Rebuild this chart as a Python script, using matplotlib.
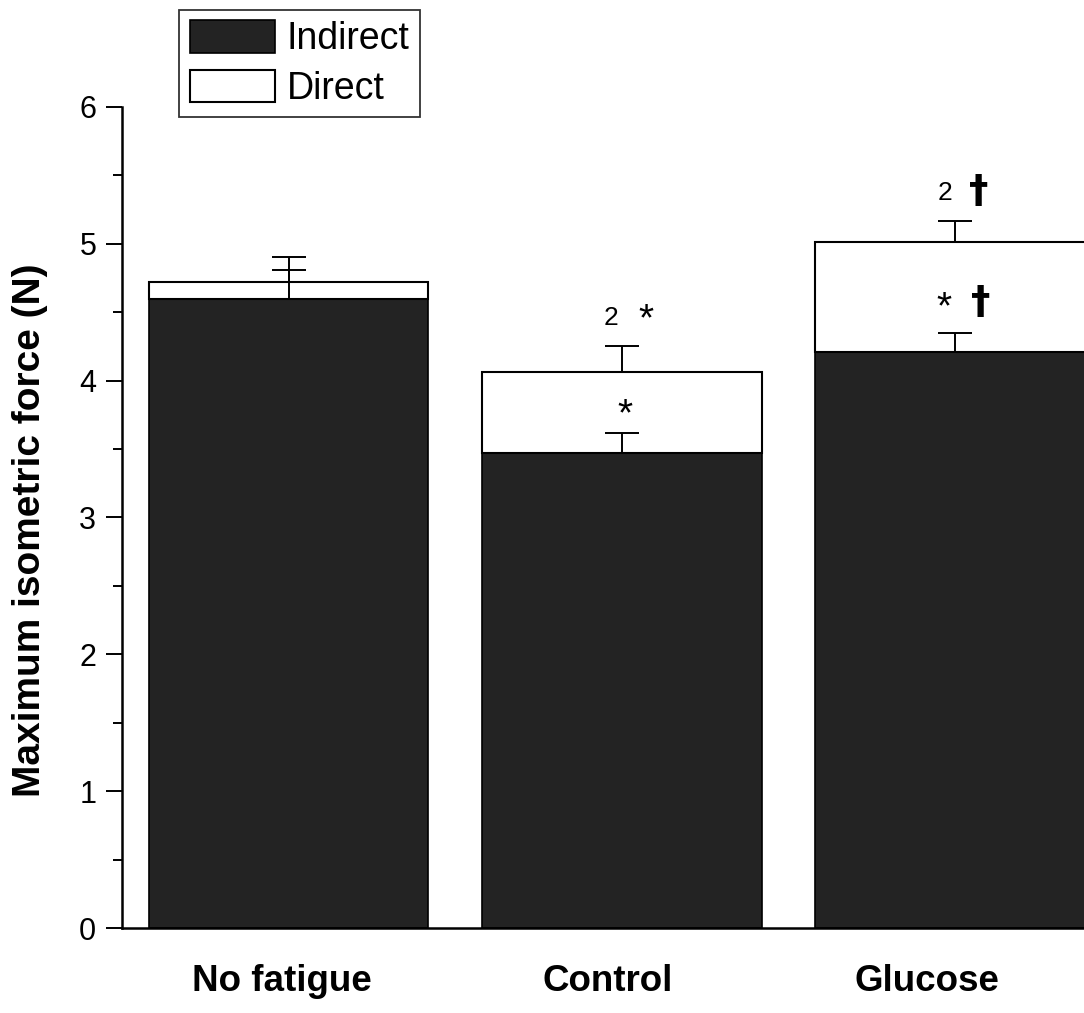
import matplotlib
matplotlib.use("Agg")
import matplotlib.pyplot as plt
import numpy as np
from matplotlib.ticker import MultipleLocator

plt.rcParams['font.family'] = ['Liberation Sans', 'DejaVu Sans']

groups = ['No fatigue', 'Control', 'Glucose']
indirect = [4.60, 3.47, 4.21]
indirect_err = [0.21, 0.15, 0.14]
direct = [0.12, 0.59, 0.80]
direct_err = [0.18, 0.19, 0.16]

# significance marks: (group index, x offset, y, text)
marks = [
    (1, -0.033, 4.46, '2'),
    (1, 0.072, 4.44, '*'),
    (1, 0.010, 3.75, '*'),
    (2, -0.030, 5.37, '2'),
    (2, 0.072, 5.38, '\u2020'),
    (2, -0.033, 4.525, '*'),
    (2, 0.078, 4.57, '\u2020'),
]
mark_style = {
    '2': dict(fontsize=19),
    '*': dict(fontsize=28),
    '\u2020': dict(fontsize=28, fontweight='bold', family=['DejaVu Sans']),
}
label_shift = [-0.021, -0.042, -0.084]

fig = plt.figure(figsize=(10.84, 10.13), dpi=100)
ax = fig.add_axes([0.1125, 0.0839, 0.9834, 0.8105])

x = np.arange(len(groups))
indirect = np.array(indirect)
direct = np.array(direct)
total = indirect + direct
zero = np.zeros(len(groups))

ax.bar(x, indirect, 0.84, color='#232323', edgecolor='black', lw=1.2,
       label='Indirect', zorder=2)
ax.bar(x, direct, 0.84, bottom=indirect, color='white', edgecolor='black',
       lw=1.5, label='Direct', zorder=2)
ax.errorbar(x, indirect, yerr=[zero, indirect_err], fmt='none', ecolor='black',
            elinewidth=1.4, capsize=12, capthick=1.4, zorder=3)
ax.errorbar(x, total, yerr=[zero, direct_err], fmt='none', ecolor='black',
            elinewidth=1.4, capsize=12, capthick=1.4, zorder=3)

for i, dx, y, s in marks:
    ax.text(i + dx, y, s, ha='center', va='center', zorder=4, **mark_style[s])

ax.set_xlim(-0.5, 2.7)
ax.set_ylim(0, 6)
ax.spines['top'].set_visible(False)
ax.spines['right'].set_visible(False)
ax.spines['left'].set_linewidth(1.8)
ax.spines['bottom'].set_linewidth(1.8)

ax.yaxis.set_major_locator(MultipleLocator(1))
ax.yaxis.set_minor_locator(MultipleLocator(0.5))
ax.tick_params(axis='y', which='major', length=11.5, width=1.4, pad=7,
               labelsize=22)
ax.tick_params(axis='y', which='minor', length=6.5, width=1.4)

ax.set_xticks(x + np.array(label_shift))
ax.set_xticklabels(groups, fontsize=26.5, fontweight='bold')
ax.tick_params(axis='x', length=0, pad=26)

fig.text(30 / 1084, 1 - 530 / 1013, 'Maximum isometric force (N)',
         rotation=90, fontsize=28, fontweight='bold', ha='center', va='center')

leg = ax.legend(loc='upper left', bbox_to_anchor=(179 / 1084, 1 - 10 / 1013),
                bbox_transform=fig.transFigure, fontsize=27, frameon=True,
                fancybox=False, handlelength=2.27, handleheight=0.94,
                handletextpad=0.33, labelspacing=0.33, borderpad=0.28,
                borderaxespad=0)
leg.get_frame().set_edgecolor('black')
leg.get_frame().set_linewidth(1.3)

fig.savefig('out.png', dpi=100)
